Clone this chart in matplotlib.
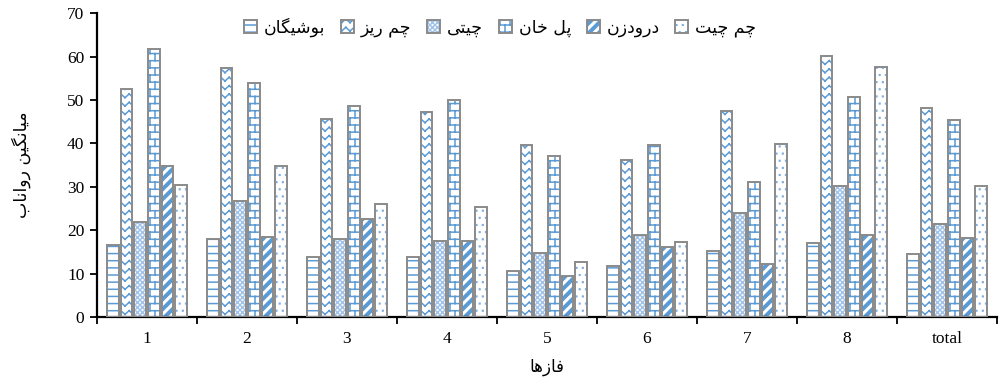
import numpy as np
import matplotlib
matplotlib.use("Agg")
import matplotlib.pyplot as plt
import matplotlib.hatch as mhatch
from matplotlib.path import Path
from matplotlib.legend_handler import HandlerTuple

# ---------------- data ----------------
groups = ["1", "2", "3", "4", "5", "6", "7", "8", "total"]
series_names = ["بوشیگان", "چم ریز", "چیتی", "پل خان", "درودزن", "چم چیت"]
bushigan = [16.5, 17.9, 13.8, 13.9, 10.5, 11.8, 15.2, 17.1, 14.5]
cham_riz = [52.5, 57.5, 45.6, 47.2, 39.7, 36.2, 47.5, 60.2, 48.1]
chiti = [21.9, 26.7, 17.9, 17.5, 14.8, 19.0, 23.9, 30.2, 21.5]
pol_khan = [61.8, 53.9, 48.7, 50.1, 37.2, 39.6, 31.1, 50.7, 45.5]
darudzan = [34.9, 18.5, 22.5, 17.5, 9.4, 16.2, 12.3, 19.0, 18.1]
cham_chit = [30.4, 34.8, 26.0, 25.4, 12.7, 17.3, 39.8, 57.7, 30.2]
series_values = [bushigan, cham_riz, chiti, pol_khan, darudzan, cham_chit]
y_ticks = [0, 10, 20, 30, 40, 50, 60, 70]
x_label = "فازها"
y_label = "میانگین رواناب"

# ---------------- minimal Arabic/Persian shaping ----------------
_FORMS = {
    '\u0627': ('\uFE8D', '\uFE8E', None, None),
    '\u0628': ('\uFE8F', '\uFE90', '\uFE91', '\uFE92'),
    '\u062A': ('\uFE95', '\uFE96', '\uFE97', '\uFE98'),
    '\u062E': ('\uFEA5', '\uFEA6', '\uFEA7', '\uFEA8'),
    '\u062F': ('\uFEA9', '\uFEAA', None, None),
    '\u0631': ('\uFEAD', '\uFEAE', None, None),
    '\u0632': ('\uFEAF', '\uFEB0', None, None),
    '\u0634': ('\uFEB5', '\uFEB6', '\uFEB7', '\uFEB8'),
    '\u0641': ('\uFED1', '\uFED2', '\uFED3', '\uFED4'),
    '\u0644': ('\uFEDD', '\uFEDE', '\uFEDF', '\uFEE0'),
    '\u0645': ('\uFEE1', '\uFEE2', '\uFEE3', '\uFEE4'),
    '\u0646': ('\uFEE5', '\uFEE6', '\uFEE7', '\uFEE8'),
    '\u0647': ('\uFEE9', '\uFEEA', '\uFEEB', '\uFEEC'),
    '\u0648': ('\uFEED', '\uFEEE', None, None),
    '\u067E': ('\uFB56', '\uFB57', '\uFB58', '\uFB59'),
    '\u0686': ('\uFB7A', '\uFB7B', '\uFB7C', '\uFB7D'),
    '\u06AF': ('\uFB92', '\uFB93', '\uFB94', '\uFB95'),
    '\u06CC': ('\uFBFC', '\uFBFD', '\uFBFE', '\uFBFF'),
}


def shape(text):
    out = []
    for i, ch in enumerate(text):
        if ch not in _FORMS:
            out.append(ch)
            continue
        iso, fin, ini, med = _FORMS[ch]
        prev = text[i - 1] if i > 0 else None
        nxt = text[i + 1] if i + 1 < len(text) else None
        jp = prev in _FORMS and _FORMS[prev][2] is not None
        jn = ini is not None and nxt in _FORMS
        if jp and jn:
            f = med
        elif jp:
            f = fin
        elif jn:
            f = ini
        else:
            f = iso
        out.append(f)
    return ''.join(reversed(out))


# ---------------- custom hatch patterns ----------------
class _CustomHatch(mhatch.HatchPatternBase):
    char = None

    def __init__(self, hatch, density):
        self.parts = self.build() if (hatch and self.char in hatch) else []
        self.num_vertices = sum(len(v) for v, c in self.parts)

    def set_vertices_and_codes(self, vertices, codes):
        i = 0
        for v, c in self.parts:
            n = len(v)
            vertices[i:i + n] = v
            codes[i:i + n] = c
            i += n

    @staticmethod
    def seg(x0, y0, x1, y1):
        return (np.array([[x0, y0], [x1, y1]]), [Path.MOVETO, Path.LINETO])

    @staticmethod
    def poly(pts):
        pts = list(pts) + [pts[0]]
        return (np.array(pts), [Path.MOVETO] + [Path.LINETO] * (len(pts) - 2) + [Path.CLOSEPOLY])


class HorizHatch(_CustomHatch):
    char = 'H'

    def build(self):
        n = 14
        return [self.seg(-0.05, (k + 0.5) / n, 1.05, (k + 0.5) / n) for k in range(n)]


class ZigHatch(_CustomHatch):
    char = 'Z'

    def build(self):
        n = 12
        p = 1.0 / 12
        a = 0.45 / n
        parts = []
        for k in range(n):
            y = (k + 0.5) / n
            for j in range(-1, 13):
                x = j * p
                parts.append(self.seg(x, y - a / 2, x + p / 2, y + a / 2))
                parts.append(self.seg(x + p / 2, y + a / 2, x + p, y - a / 2))
        return parts


class CrossHatch(_CustomHatch):
    char = 'K'

    def build(self):
        n = 20
        parts = []
        for c in range(-n - 1, n + 2):
            x = c / n
            parts.append(self.seg(x, 0, x + 1, 1))
            parts.append(self.seg(x, 1, x + 1, 0))
        return parts


class BrickHatch(_CustomHatch):
    char = 'B'

    def build(self):
        n = 14
        h = 1.0 / n
        w = 1.0 / 10
        parts = []
        for k in range(n):
            y = (k + 0.5) * h
            parts.append(self.seg(-0.05, y, 1.05, y))
        for k in range(-1, n):
            y = (k + 0.5) * h
            off = (k % 2) * w / 2
            for j in range(-1, 11):
                x = j * w + off
                parts.append(self.seg(x, y, x, y + h))
        return parts


class ThickDiagHatch(_CustomHatch):
    char = 'D'

    def build(self):
        n = 10
        p = 1.0 / n
        wd = 0.035
        parts = []
        for c in range(-n - 1, n + 2):
            x0 = c * p
            parts.append(self.poly([(x0, 0), (x0 + wd, 0), (x0 + wd + 1, 1), (x0 + 1, 1)]))
        return parts


class DotHatch(_CustomHatch):
    char = 'P'

    def build(self):
        n = 14
        h = 1.0 / n
        m = 16
        w = 1.0 / m
        s = 0.003
        parts = []
        for k in range(n):
            y = (k + 0.5) * h
            off = (k % 2) * w / 2
            for j in range(m):
                x = j * w + off + w / 4
                parts.append(self.poly([(x - s, y - s), (x + s, y - s), (x + s, y + s), (x - s, y + s)]))
        return parts


mhatch._hatch_types.extend([HorizHatch, ZigHatch, CrossHatch, BrickHatch, ThickDiagHatch, DotHatch])
mhatch._validate_hatch_pattern = lambda h: None

# ---------------- figure ----------------
plt.rcParams['hatch.linewidth'] = 1.1
serif = ["Liberation Serif", "DejaVu Serif"]
persian = ["DejaVu Sans"]

fig = plt.figure(figsize=(10.02, 3.85), dpi=100)
ax = fig.add_axes([0.0968, 0.1766, 0.8982, 0.7888])

hatches = ['H', 'Z', 'K', 'B', 'D', 'P']
hatch_colors = ['#5B9BD5', '#5B9BD5', '#A3C4EA', '#5B9BD5', '#5B9BD5', '#7FAEE0']
edge_gray = '#8A8A8A'

x = np.arange(len(groups))
slot = 0.136
bw = 0.115
handles = []
for i, vals in enumerate(series_values):
    pos = x + (i - 2.5) * slot
    b1 = ax.bar(pos, vals, width=bw, color='white', edgecolor=hatch_colors[i],
                linewidth=0, hatch=hatches[i], zorder=2)
    b2 = ax.bar(pos, vals, width=bw, fill=False, edgecolor=edge_gray,
                linewidth=1.4, zorder=3)
    handles.append((b1, b2))

ax.set_xlim(-0.5, len(groups) - 0.5)
ax.set_ylim(0, 70)
ax.set_yticks(y_ticks)
ax.set_xticks(x)
ax.set_xticklabels(groups)
ax.set_xticks(np.arange(len(groups) + 1) - 0.5, minor=True)
ax.tick_params(axis='x', which='major', length=0, pad=10)
ax.tick_params(axis='x', which='minor', length=5, width=1.3, direction='out', color='black')
ax.tick_params(axis='y', which='major', length=5, width=1.3, direction='out', pad=4)
for lab in ax.get_xticklabels() + ax.get_yticklabels():
    lab.set_fontfamily(serif)
    lab.set_fontsize(12.5)

for s in ['top', 'right']:
    ax.spines[s].set_visible(False)
for s in ['left', 'bottom']:
    ax.spines[s].set_linewidth(1.6)
    ax.spines[s].set_color('black')

ax.set_xlabel(shape(x_label), fontfamily=persian, fontsize=12, labelpad=8)
ax.set_ylabel(shape(y_label), fontfamily=persian, fontsize=12.5, labelpad=26)

leg = ax.legend(handles, [shape(n) for n in series_names], ncol=6, loc='center',
                bbox_to_anchor=(0.448, 0.955), frameon=False,
                prop={'family': persian, 'size': 12.5},
                handler_map={tuple: HandlerTuple(ndivide=1)},
                handlelength=0.75, handleheight=0.75, handletextpad=0.4,
                columnspacing=0.9, borderaxespad=0)

fig.savefig("out.png", dpi=100)
